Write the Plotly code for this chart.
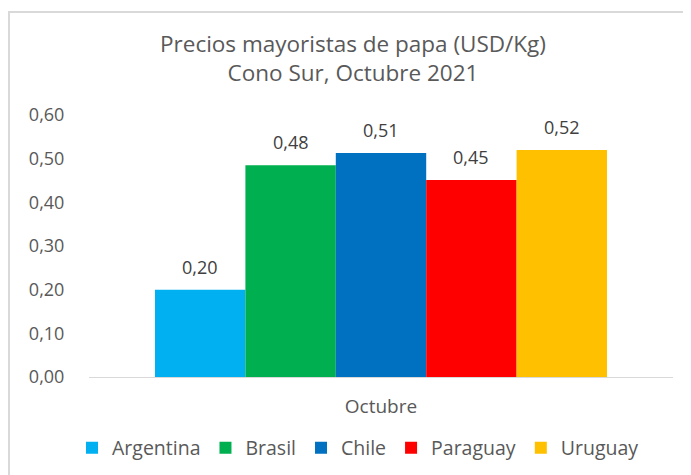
import plotly.graph_objects as go

categories = ["Octubre"]
countries = ["Argentina", "Brasil", "Chile", "Paraguay", "Uruguay"]
values = [0.20, 0.485, 0.513, 0.451, 0.52]
colors = ["#00b0f0", "#00b050", "#0070c0", "#ff0000", "#ffc000"]
y_ticks = [0.0, 0.1, 0.2, 0.3, 0.4, 0.5, 0.6]

FONT = "Open Sans"
BARGAP = 0.226
# page body has an 8px margin: figure origin is at page (8, 8)
W, H = 683, 467
L, R, T, B = 81, 18, 107, 98
PW, PH = W - L - R, H - T - B


def px_x(x):  # page x -> paper x
    return (x - 8 - L) / PW


def px_y(y):  # page y -> paper y
    return (H - B - (y - 8)) / PH


fig = go.Figure()
for name, v, c in zip(countries, values, colors):
    fig.add_trace(go.Bar(
        x=categories, y=[v], name=name, marker=dict(color=c, line=dict(width=0)),
    ))

# helper axis with one slot per bar, aligned with the grouped bars, for the value labels
n = len(countries)
span = n / (1 - BARGAP)
pad = (span - n) / 2
for i, (name, v) in enumerate(zip(countries, values)):
    fig.add_annotation(x=name, y=v, xref="x2", yref="y", text=f"{v:.2f}".replace(".", ","),
                       showarrow=False, yanchor="middle", yshift=23,
                       font=dict(family=FONT, size=18, color="#404040"))

fig.update_layout(
    width=W, height=H,
    separators=",.",
    barmode="group", bargap=BARGAP, bargroupgap=0,
    paper_bgcolor="white", plot_bgcolor="white",
    margin=dict(l=L, r=R, t=T, b=B, autoexpand=False),
    font=dict(family=FONT, color="#595959", size=16),
    title=dict(text="Precios mayoristas de papa (USD/Kg)<br>Cono Sur, Octubre 2021",
               x=(353 - 8) / W, xanchor="center", y=1 - (52 - 8) / H, yanchor="middle",
               font=dict(family=FONT, size=22.5, color="#595959")),
    showlegend=True,
    legend=dict(orientation="h", x=px_x(358), xanchor="center", y=px_y(448), yanchor="middle",
                font=dict(family=FONT, size=19.5, color="#595959"), itemwidth=30,
                traceorder="normal"),
    xaxis=dict(showline=True, linecolor="#d9d9d9", linewidth=1, showgrid=False,
               ticks="outside", ticklen=12, tickcolor="white",
               tickfont=dict(family=FONT, size=19, color="#595959")),
    xaxis2=dict(overlaying="x", type="category", categoryorder="array", categoryarray=countries,
                range=[-0.5 - pad, n - 0.5 + pad], visible=False),
    yaxis=dict(range=[0, 0.6], tickvals=y_ticks, tickformat=".2f", showgrid=False,
               zeroline=False, showline=False, ticks="outside", ticklen=20, tickcolor="white",
               tickfont=dict(family=FONT, size=18, color="#595959")),
    shapes=[
        dict(type="line", xref="paper", yref="paper", x0=px_x(9), x1=px_x(9),
             y0=px_y(490), y1=px_y(12), line=dict(color="#d9d9d9", width=2)),
        dict(type="line", xref="paper", yref="paper", x0=px_x(8), x1=px_x(700),
             y0=px_y(12), y1=px_y(12), line=dict(color="#d9d9d9", width=2)),
    ],
)
fig.write_html("out.html")
